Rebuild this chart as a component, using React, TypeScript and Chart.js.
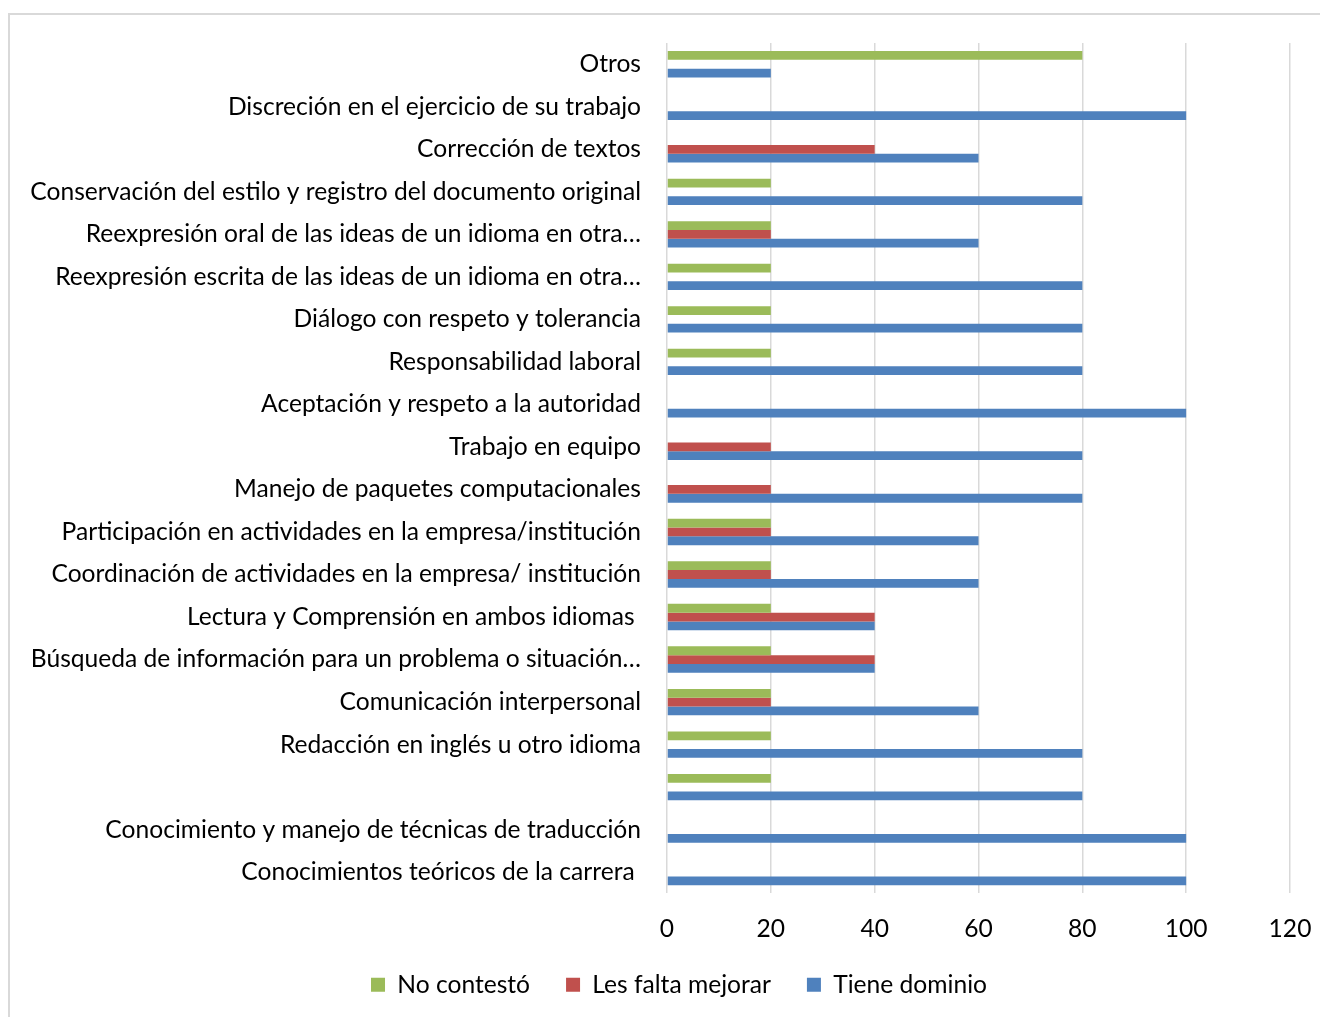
import React, { useEffect, useRef } from 'react';
import { Chart, registerables } from 'chart.js';

Chart.register(...registerables);

const categories: string[] = [
  'Otros',
  'Discreción en el ejercicio de su trabajo',
  'Corrección de textos',
  'Conservación del estilo y registro del documento original',
  'Reexpresión oral de las ideas de un idioma en otra…',
  'Reexpresión escrita de las ideas de un idioma en otra…',
  'Diálogo con respeto y tolerancia',
  'Responsabilidad laboral',
  'Aceptación y respeto a la autoridad',
  'Trabajo en equipo',
  'Manejo de paquetes computacionales',
  'Participación en actividades en la empresa/institución',
  'Coordinación de actividades en la empresa/ institución',
  'Lectura y Comprensión en ambos idiomas ',
  'Búsqueda de información para un problema o situación…',
  'Comunicación interpersonal',
  'Redacción en inglés u otro idioma',
  '',
  'Conocimiento y manejo de técnicas de traducción',
  'Conocimientos teóricos de la carrera ',
];

const noContesto: (number | null)[] = [80, null, null, 20, 20, 20, 20, 20, null, null, null, 20, 20, 20, 20, 20, 20, 20, null, null];
const lesFaltaMejorar: (number | null)[] = [null, null, 40, null, 20, null, null, null, null, 20, 20, 20, 20, 40, 40, 20, null, null, null, null];
const tieneDominio: (number | null)[] = [20, 100, 60, 80, 60, 80, 80, 80, 100, 80, 80, 60, 60, 40, 40, 60, 80, 80, 100, 100];

const seriesNames = ['No contestó', 'Les falta mejorar', 'Tiene dominio'];
const seriesColors = ['#9BBB59', '#C0504D', '#4F81BD'];

const xMin = 0;
const xMax = 120;
const xStep = 20;

const W = 1320;
const H = 1012;

const legendShift = {
  id: 'legendShift',
  afterLayout(chart: any) {
    const lg = chart.legend;
    if (!lg) return;
    const dx = 671 - (lg.left + lg.right) / 2;
    const dy = -13;
    lg.left += dx;
    lg.right += dx;
    lg.top += dy;
    lg.bottom += dy;
  },
};

export default function App() {
  const canvasRef = useRef<HTMLCanvasElement | null>(null);

  useEffect(() => {
    document.body.style.overflow = 'hidden';
    const canvas = canvasRef.current;
    if (!canvas) return;
    const font = { family: 'Lato', size: 24.6 };
    const chart = new Chart(canvas, {
      type: 'bar',
      data: {
        labels: categories,
        datasets: [noContesto, lesFaltaMejorar, tieneDominio].map((d, i) => ({
          label: seriesNames[i],
          data: d,
          backgroundColor: seriesColors[i],
          borderWidth: 0,
          categoryPercentage: 0.62,
          barPercentage: 1,
        })),
      },
      options: {
        indexAxis: 'y',
        responsive: false,
        animation: false,
        layout: { padding: { left: 0, right: 38, top: 35, bottom: 0 } },
        scales: {
          x: {
            min: xMin,
            max: xMax,
            ticks: { stepSize: xStep, color: '#000', font, padding: 21 },
            grid: { color: '#D9D9D9', lineWidth: 1.5, drawTicks: false },
            border: { display: false },
            afterFit: (s: any) => {
              s.height = 56;
              s.paddingLeft = 0;
              s.paddingRight = 0;
            },
          },
          y: {
            ticks: { color: '#000', font, padding: 26, autoSkip: false },
            grid: { display: false, drawTicks: false },
            border: { display: false },
            afterFit: (s: any) => {
              s.width = 659;
              s.paddingTop = 0;
              s.paddingBottom = 0;
            },
          },
        },
        plugins: {
          legend: {
            position: 'bottom',
            labels: { boxWidth: 14, boxHeight: 14, padding: 36, color: '#000', font },
          },
          tooltip: { enabled: false },
        },
      },
      plugins: [legendShift],
    } as any);
    return () => chart.destroy();
  }, []);

  return (
    <div style={{ position: 'relative', width: W, height: H, overflow: 'hidden' }}>
      <div
        style={{
          position: 'absolute',
          left: 0,
          top: 5,
          width: 1400,
          height: 1100,
          border: '2px solid #D9D9D9',
          boxSizing: 'border-box',
        }}
      />
      <canvas
        ref={canvasRef}
        width={W}
        height={H}
        style={{ position: 'absolute', left: 0, top: 0 }}
      />
    </div>
  );
}
